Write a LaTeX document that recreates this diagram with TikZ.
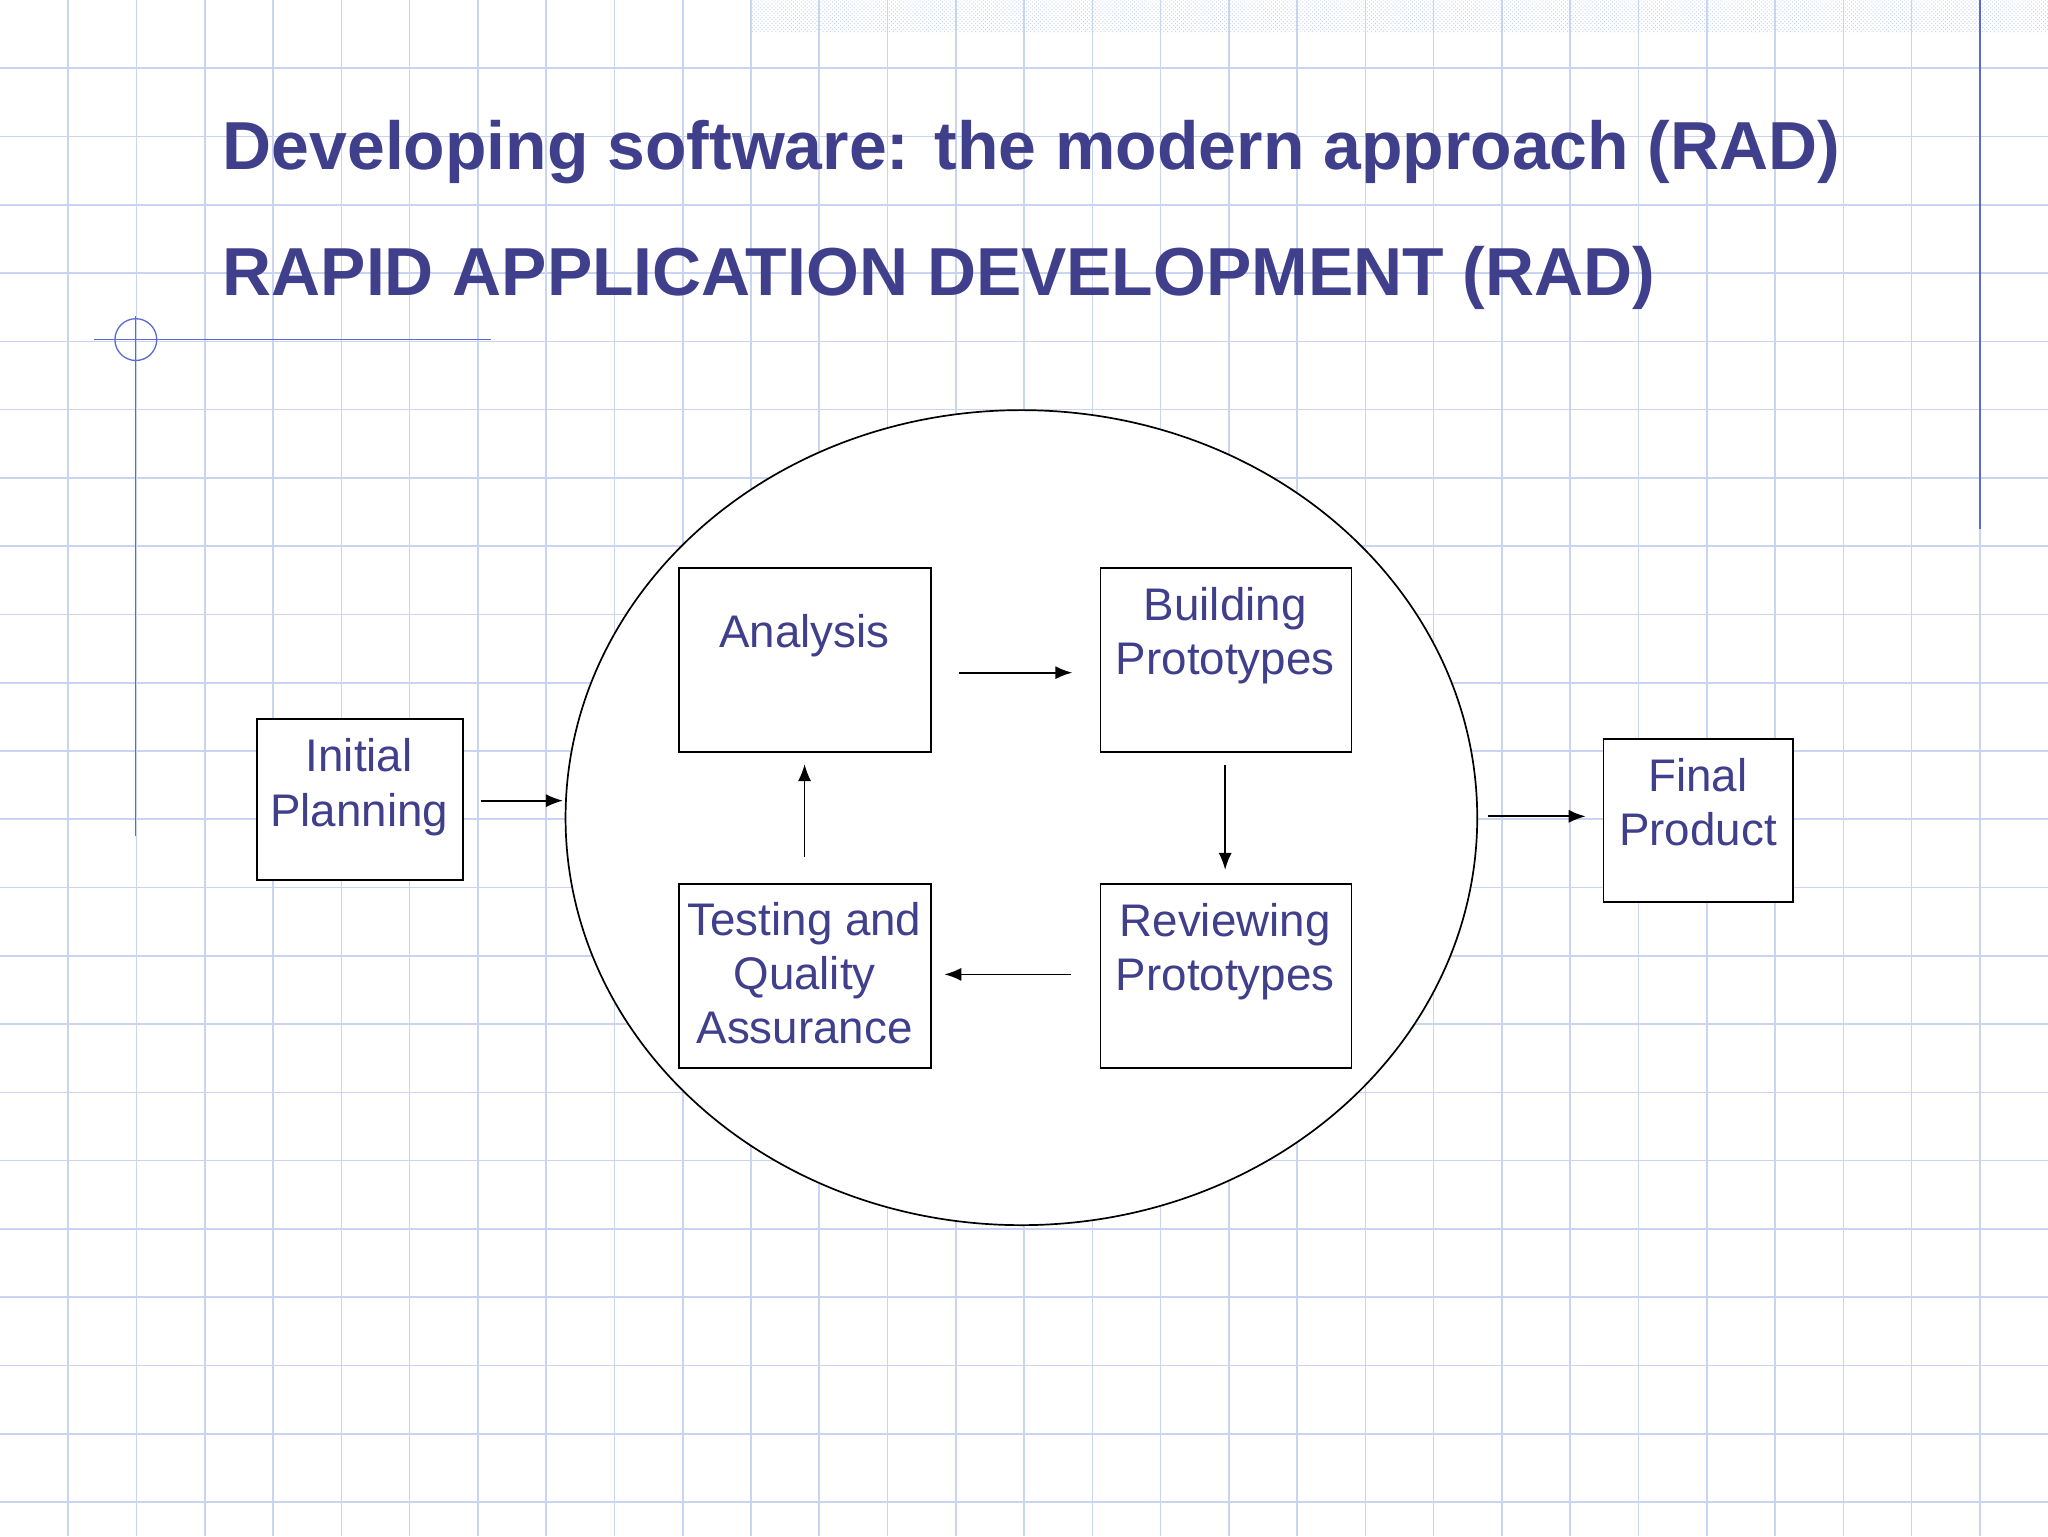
\documentclass[tikz,border=0pt]{standalone}
\usepackage{fontspec}
\setmainfont{Liberation Sans}
\usetikzlibrary{arrows.meta,patterns}
\definecolor{txt}{HTML}{3F3F8C}
\definecolor{gridc}{HTML}{C8D4F0}
\definecolor{lin}{HTML}{5A6AD0}
\tikzset{
 box/.style={draw,line width=1.3pt,fill=white,anchor=north west,inner sep=0pt},
 lbl/.style={text=txt,font=\fontsize{35}{41.5}\selectfont,align=center,anchor=north},
 arr/.style={-{Latex[length=13pt,width=10pt]},line width=1.3pt},
 ttl/.style={text=txt,font=\bfseries\fontsize{52}{56}\selectfont,anchor=base west}
}
\begin{document}
\begin{tikzpicture}[x=1pt,y=-1pt]
\useasboundingbox (0,0) rectangle (1568,1176);
\fill[white] (0,0) rectangle (1568,1176);
\foreach \i in {1,...,29} {\draw[gridc,line width=1.2pt] (\i*52.27,0) -- (\i*52.27,1176);}
\foreach \i in {1,...,22} {\draw[gridc,line width=1.2pt] (0,\i*52.27) -- (1568,\i*52.27);}
\fill[pattern=crosshatch dots,pattern color=gridc] (575,0) rectangle (1568,25);
\draw[lin,line width=1pt] (1516,0) -- (1516,405);
\draw[lin,line width=1pt] (72,260) -- (376,260);
\draw[lin,line width=1pt] (104,242) -- (104,640);
\draw[lin,line width=1pt] (104,260) circle (16);
\node[ttl] (t1) at (167,130) {Developing software: the modern approach (RAD)};
\node[ttl] (t2) at (167,226) {RAPID APPLICATION DEVELOPMENT (RAD)};
\draw[line width=1.3pt,fill=white] (782,626) ellipse [x radius=349,y radius=312];
\node[box,minimum width=158,minimum height=123] (ip) at (196,550) {};
\node[lbl] at (275,562) {Initial\\Planning};
\node[box,minimum width=193,minimum height=141] (an) at (519,434) {};
\node[lbl] at (616,467) {Analysis};
\node[box,minimum width=192,minimum height=141] (bp) at (842,434) {};
\node[lbl] at (938,446) {Building\\Prototypes};
\node[box,minimum width=193,minimum height=141] (tq) at (519,676) {};
\node[lbl] at (616,687) {Testing and\\Quality\\Assurance};
\node[box,minimum width=192,minimum height=141] (rp) at (842,676) {};
\node[lbl] at (938,688) {Reviewing\\Prototypes};
\node[box,minimum width=145,minimum height=125] (fp) at (1227,565) {};
\node[lbl] at (1300,577) {Final\\Product};
\coordinate (a1) at (368,613); \coordinate (a2) at (431,613);
\coordinate (b1) at (734,515); \coordinate (b2) at (821,515);
\coordinate (c1) at (938,586); \coordinate (c2) at (938,666);
\coordinate (d1) at (820,746); \coordinate (d2) at (723,746);
\coordinate (e1) at (616,656); \coordinate (e2) at (616,585);
\coordinate (f1) at (1139,625); \coordinate (f2) at (1214,625);
\foreach \s in {a,b,c,d,e,f} {\draw[arr] (\s1) -- (\s2);}
\end{tikzpicture}
\end{document}
